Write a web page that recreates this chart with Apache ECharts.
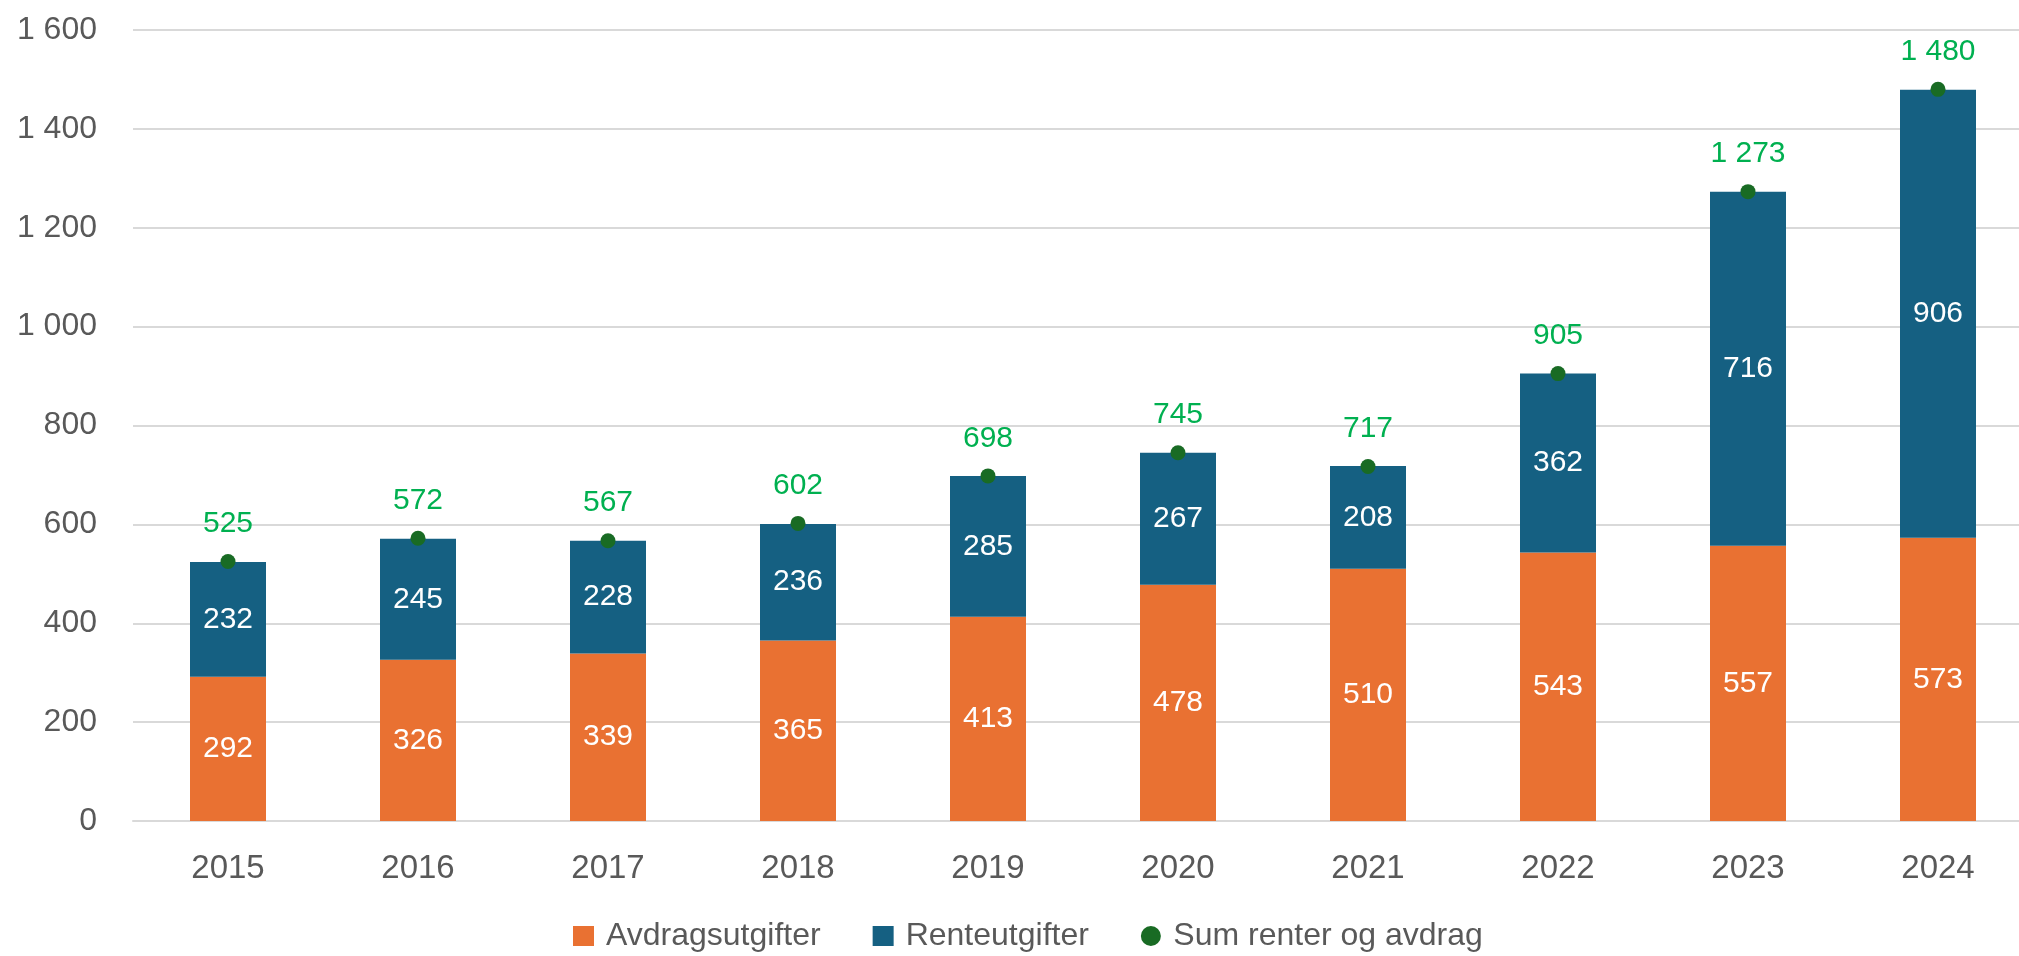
<!DOCTYPE html>
<html lang="nb">
<head>
    <meta charset="UTF-8">
    <title>Renter og avdrag</title>
    <script src="https://cdn.jsdelivr.net/npm/echarts@6/dist/echarts.min.js"></script>
    <style>
        html, body { margin: 0; padding: 0; background: #ffffff; }
        #chart { width: 2019px; height: 956px; }
    </style>
</head>
<body>
<div id="chart"></div>
<script>
    // data
    var years = ['2015', '2016', '2017', '2018', '2019', '2020', '2021', '2022', '2023', '2024'];
    var avdrag = [292, 326, 339, 365, 413, 478, 510, 543, 557, 573];
    var renter = [232, 245, 228, 236, 285, 267, 208, 362, 716, 906];
    var sumRenterAvdrag = [525, 572, 567, 602, 698, 745, 717, 905, 1273, 1480];

    var font = 'Liberation Sans, Arial, sans-serif';

    // "1600" -> "1 600"
    function fmt(v) {
        return String(v).replace(/\B(?=(\d{3})+(?!\d))/g, ' ');
    }

    var option = {
        backgroundColor: '#ffffff',
        animation: false,
        grid: {
            left: 133,
            top: 30,
            width: 1900,
            bottom: 135,
            outerBoundsMode: 'none'
        },
        legend: {
            left: 573,
            top: 920,
            padding: 0,
            itemWidth: 21,
            itemHeight: 20,
            itemGap: 52,
            textStyle: {
                fontFamily: font,
                fontSize: 32,
                color: '#595959',
                padding: [0, 0, 0, 7]
            },
            data: [
                {name: 'Avdragsutgifter', icon: 'rect'},
                {name: 'Renteutgifter', icon: 'rect'},
                {name: 'Sum renter og avdrag', icon: 'circle'}
            ]
        },
        xAxis: {
            type: 'category',
            data: years,
            axisTick: {show: false},
            axisLine: {lineStyle: {color: '#d9d9d9', width: 2}},
            axisLabel: {
                fontFamily: font,
                fontSize: 33,
                color: '#595959',
                margin: 31
            }
        },
        yAxis: {
            type: 'value',
            min: 0,
            max: 1600,
            interval: 200,
            axisLine: {show: false},
            axisTick: {show: false},
            splitLine: {lineStyle: {color: '#d9d9d9', width: 2}},
            axisLabel: {
                fontFamily: font,
                fontSize: 32,
                color: '#595959',
                margin: 36,
                formatter: fmt
            }
        },
        series: [
            {
                name: 'Avdragsutgifter',
                type: 'bar',
                stack: 'total',
                barWidth: '40%',
                itemStyle: {color: '#E97132'},
                label: {
                    show: true,
                    position: 'inside',
                    fontFamily: font,
                    fontSize: 30,
                    color: '#ffffff'
                },
                data: avdrag
            },
            {
                name: 'Renteutgifter',
                type: 'bar',
                stack: 'total',
                barWidth: '40%',
                itemStyle: {color: '#156082'},
                label: {
                    show: true,
                    position: 'inside',
                    fontFamily: font,
                    fontSize: 30,
                    color: '#ffffff'
                },
                data: renter
            },
            {
                name: 'Sum renter og avdrag',
                type: 'scatter',
                symbol: 'circle',
                symbolSize: 15,
                itemStyle: {color: '#196B24', opacity: 1},
                label: {
                    show: true,
                    position: 'top',
                    distance: 15,
                    fontFamily: font,
                    fontSize: 30,
                    color: '#00B050',
                    formatter: function (p) { return fmt(p.value); }
                },
                z: 5,
                data: sumRenterAvdrag
            }
        ]
    };

    var chart = echarts.init(document.getElementById('chart'));
    chart.setOption(option);
</script>
</body>
</html>
